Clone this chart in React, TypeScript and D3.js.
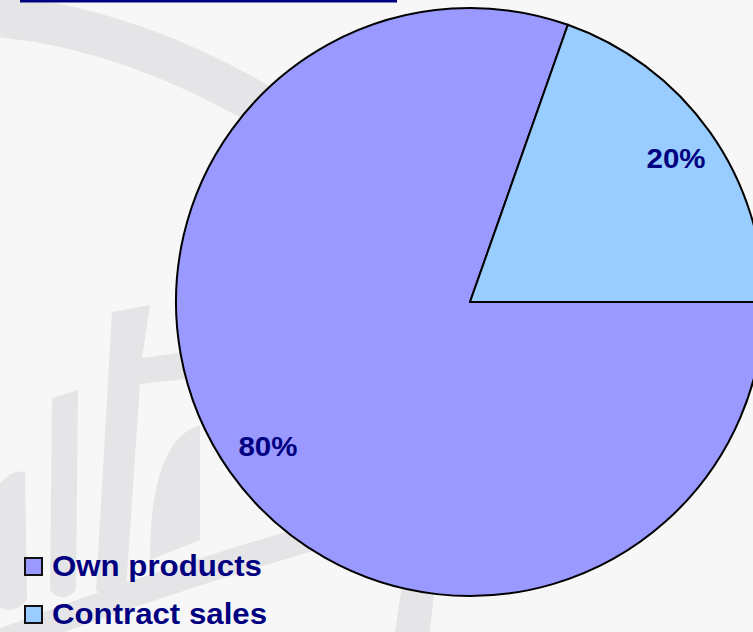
import React from "react";
import * as d3 from "d3";

const categories = ["Own products", "Contract sales"];
const shares = [80.4, 19.6];
const sliceColors = ["#9999FF", "#99CCFF"];

const W = 753;
const H = 632;

export default function App() {
  const cx = 470;
  const cy = 302;
  const r = 294;
  const pie = d3
    .pie<number>()
    .sort(null)
    .startAngle(Math.PI / 2)
    .endAngle(Math.PI / 2 + 2 * Math.PI)(shares);
  const arc = d3.arc<d3.PieArcDatum<number>>().innerRadius(0).outerRadius(r);
  const labelArc = d3.arc<d3.PieArcDatum<number>>().innerRadius(250).outerRadius(250);
  const total = d3.sum(shares);
  const fmt = d3.format(".0%");
  const wm = "#e5e5e8";
  const navy = "#000080";

  return (
    <div style={{ position: "absolute", left: 0, top: 0, width: W, height: H, overflow: "hidden" }}>
      <svg width={W} height={H} style={{ display: "block" }}>
        <rect x={0} y={0} width={W} height={H} fill="#f7f7f7" />
        {/* watermark */}
        <g fill={wm} stroke="none">
          <path d="M -30 14 Q 150 22 330 150" fill="none" stroke={wm} strokeWidth={42} />
          <path d="M -20 650 Q 160 580 340 530" fill="none" stroke={wm} strokeWidth={26} />
          <path d="M 395 632 L 402 585 L 435 585 L 430 632 Z" />
          <path d="M -10 600 L -10 500 Q 5 468 25 472 L 27 600 Q 10 620 -10 600 Z" />
          <path d="M 50 590 L 52 398 L 78 390 L 76 590 Q 62 605 50 590 Z" />
          <path d="M 96 590 L 112 312 L 150 305 L 142 358 L 200 350 L 196 378 L 140 384 L 126 590 Q 110 605 96 590 Z" />
          <path d="M 150 560 Q 150 440 200 425 L 200 540 Z" />
        </g>
        <rect x={20} y={0} width={377} height={2.5} fill={navy} />
        <g transform={`translate(${cx},${cy})`}>
          {pie.map((d, i) => (
            <path key={i} d={arc(d) || ""} fill={sliceColors[i]} stroke="#000" strokeWidth={2} strokeLinejoin="round" />
          ))}
          {pie.map((d, i) => {
            const [x, y] = labelArc.centroid(d);
            return (
              <text
                key={"l" + i}
                x={x + 2}
                y={y + 10}
                textAnchor="middle"
                fontFamily="'Liberation Sans', Arial, sans-serif"
                fontWeight="bold"
                fontSize={28}
                fill={navy}
                textLength={59}
                lengthAdjust="spacingAndGlyphs"
              >
                {fmt(d.value / total)}
              </text>
            );
          })}
        </g>
        {categories.map((c, i) => (
          <g key={c} transform={`translate(0,${i * 48})`}>
            <rect x={25} y={558} width={17} height={17} fill={sliceColors[i]} stroke="#111" strokeWidth={2} />
            <text
              x={52}
              y={576}
              fontFamily="'Liberation Sans', Arial, sans-serif"
              fontWeight="bold"
              fontSize={30}
              fill={navy}
              textLength={i === 0 ? 210 : 215}
              lengthAdjust="spacingAndGlyphs"
            >
              {c}
            </text>
          </g>
        ))}
      </svg>
    </div>
  );
}
